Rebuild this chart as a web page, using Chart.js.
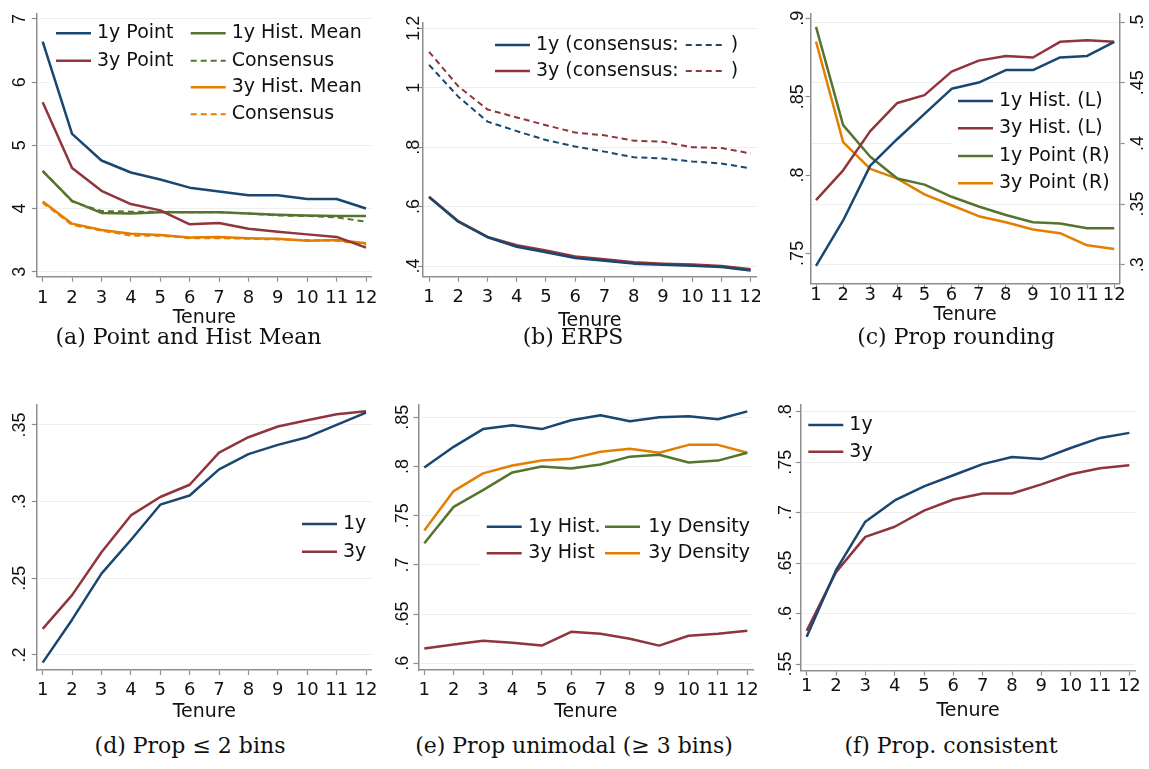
<!DOCTYPE html>
<html>
<head>
<meta charset="utf-8">
<title>Tenure panels</title>
<script src="https://cdn.jsdelivr.net/npm/chart.js@4.4.1/dist/chart.umd.min.js"></script>
<style>
  body { margin: 0; background: #fff; width: 1149px; height: 769px; position: relative; overflow: hidden; }
  canvas { position: absolute; }
  .cap { position: absolute; font-family: "DejaVu Serif", serif; font-size: 22px; line-height: 26px;
         color: #111; text-align: center; white-space: nowrap; }
</style>
</head>
<body>
<canvas id="pa" style="left:0;top:0"></canvas>
<canvas id="pb" style="left:380px;top:0"></canvas>
<canvas id="pc" style="left:760px;top:0"></canvas>
<canvas id="pd" style="left:0;top:380px"></canvas>
<canvas id="pe" style="left:380px;top:380px"></canvas>
<canvas id="pf" style="left:760px;top:380px"></canvas>

<div class="cap" style="left:0;width:377px;top:324px">(a) Point and Hist Mean</div>
<div class="cap" style="left:380px;width:386px;top:324px">(b) ERPS</div>
<div class="cap" style="left:760px;width:392px;top:324px">(c) Prop rounding</div>
<div class="cap" style="left:0;width:380px;top:733px">(d) Prop ≤ 2 bins</div>
<div class="cap" style="left:380px;width:388px;top:733px">(e) Prop unimodal (≥ 3 bins)</div>
<div class="cap" style="left:760px;width:382px;top:733px">(f) Prop. consistent</div>

<script>
// tenure (years) on the x axis of every panel
const tenure = [1, 2, 3, 4, 5, 6, 7, 8, 9, 10, 11, 12];

// (a) point forecasts and histogram means
const point1y     = [6.64, 5.18, 4.76, 4.57, 4.46, 4.33, 4.27, 4.21, 4.21, 4.15, 4.15, 4.00];
const point3y     = [5.68, 4.64, 4.28, 4.07, 3.97, 3.75, 3.77, 3.68, 3.63, 3.59, 3.55, 3.38];
const histMean1y  = [4.59, 4.12, 3.93, 3.92, 3.94, 3.94, 3.94, 3.92, 3.90, 3.89, 3.88, 3.88];
const consMean1y  = [4.60, 4.11, 3.96, 3.95, 3.95, 3.94, 3.94, 3.92, 3.89, 3.88, 3.86, 3.79];
const histMean3y  = [4.11, 3.76, 3.66, 3.60, 3.58, 3.54, 3.55, 3.53, 3.52, 3.49, 3.50, 3.45];
const consMean3y  = [4.09, 3.74, 3.65, 3.57, 3.57, 3.53, 3.53, 3.52, 3.51, 3.50, 3.49, 3.43];

// (b) ERPS
const erps1y      = [0.632, 0.549, 0.497, 0.465, 0.446, 0.427, 0.418, 0.408, 0.404, 0.401, 0.397, 0.385];
const erps3y      = [0.633, 0.551, 0.498, 0.470, 0.452, 0.432, 0.423, 0.413, 0.408, 0.405, 0.400, 0.389];
const erpsCons1y  = [1.077, 0.970, 0.886, 0.854, 0.824, 0.802, 0.785, 0.766, 0.762, 0.752, 0.745, 0.729];
const erpsCons3y  = [1.121, 1.005, 0.927, 0.900, 0.874, 0.849, 0.840, 0.822, 0.818, 0.800, 0.797, 0.779];

// (c) share of rounded answers
const roundHist1y  = [0.742, 0.771, 0.806, 0.823, 0.839, 0.855, 0.859, 0.867, 0.867, 0.875, 0.876, 0.885];
const roundHist3y  = [0.784, 0.803, 0.828, 0.846, 0.851, 0.866, 0.873, 0.876, 0.875, 0.885, 0.886, 0.885];
const roundPoint1y = [0.496, 0.415, 0.389, 0.371, 0.366, 0.356, 0.348, 0.341, 0.335, 0.334, 0.330, 0.330];
const roundPoint3y = [0.484, 0.401, 0.379, 0.371, 0.358, 0.349, 0.340, 0.335, 0.329, 0.326, 0.316, 0.313];

// (d) share using at most two bins
const twoBins1y = [0.195, 0.223, 0.253, 0.275, 0.298, 0.304, 0.321, 0.331, 0.337, 0.342, 0.350, 0.358];
const twoBins3y = [0.217, 0.239, 0.267, 0.291, 0.303, 0.311, 0.332, 0.342, 0.349, 0.353, 0.357, 0.359];

// (e) share unimodal among three-plus bins
const unimodalHist1y = [0.799, 0.820, 0.838, 0.842, 0.838, 0.847, 0.852, 0.846, 0.850, 0.851, 0.848, 0.856];
const unimodalHist3y = [0.615, 0.619, 0.623, 0.621, 0.618, 0.632, 0.630, 0.625, 0.618, 0.628, 0.630, 0.633];
const unimodalDens1y = [0.722, 0.759, 0.776, 0.794, 0.800, 0.798, 0.802, 0.810, 0.812, 0.804, 0.806, 0.814];
const unimodalDens3y = [0.735, 0.775, 0.793, 0.801, 0.806, 0.808, 0.815, 0.818, 0.814, 0.822, 0.822, 0.814];

// (f) share consistent
const consistent1y = [0.577, 0.643, 0.691, 0.712, 0.726, 0.737, 0.748, 0.755, 0.753, 0.764, 0.774, 0.779];
const consistent3y = [0.583, 0.641, 0.676, 0.686, 0.702, 0.713, 0.719, 0.719, 0.728, 0.738, 0.744, 0.747];

// y tick values and their labels
const ticksA = [3, 4, 5, 6, 7];                 const labelsA = ["3", "4", "5", "6", "7"];
const ticksB = [0.4, 0.6, 0.8, 1, 1.2];         const labelsB = [".4", ".6", ".8", "1", "1.2"];
const ticksCL = [0.75, 0.8, 0.85, 0.9];         const labelsCL = [".75", ".8", ".85", ".9"];
const ticksCR = [0.3, 0.35, 0.4, 0.45, 0.5];    const labelsCR = [".3", ".35", ".4", ".45", ".5"];
const ticksD = [0.2, 0.25, 0.3, 0.35];          const labelsD = [".2", ".25", ".3", ".35"];
const ticksE = [0.6, 0.65, 0.7, 0.75, 0.8, 0.85]; const labelsE = [".6", ".65", ".7", ".75", ".8", ".85"];
const ticksF = [0.55, 0.6, 0.65, 0.7, 0.75, 0.8]; const labelsF = [".55", ".6", ".65", ".7", ".75", ".8"];

// Stata s2color palette
const NAVY = "#1a476f", MAROON = "#90353b", GREEN = "#55752f", ORANGE = "#e37e00";
const AXIS = "#8e8e8e", GRID = "#efefef", INK = "#111";
const SANS = '"DejaVu Sans", sans-serif';

function series(label, values, color, dashed, axis) {
  return {
    label: label,
    data: tenure.map((t, i) => ({ x: t, y: values[i] })),
    borderColor: color,
    backgroundColor: color,
    borderWidth: dashed ? 2 : 2.5,
    borderDash: dashed ? [6, 4] : [],
    borderJoinStyle: "round",
    pointRadius: 0,
    tension: 0,
    fill: false,
    yAxisID: axis || "y"
  };
}

function yAxis(p, pos) {
  return {
    type: "linear",
    position: pos,
    min: p.min,
    max: p.max,
    afterBuildTicks: s => { s.ticks = p.ticks.map(v => ({ value: v })); },
    afterFit: s => { s.width = p.width; s.paddingTop = 0; s.paddingBottom = 0; },
    ticks: { display: false },
    grid: { color: GRID, lineWidth: 1, drawOnChartArea: p.grid, drawTicks: true,
            tickLength: 5, tickColor: AXIS, tickWidth: 1.2 },
    border: { display: true, color: AXIS, width: 1.5 }
  };
}

// vertical tick labels read bottom-to-top, as in Stata
function rotatedLabels(specs) {
  return {
    id: "rotatedLabels",
    afterDraw(chart) {
      const ctx = chart.ctx;
      ctx.save();
      ctx.font = '18px "Liberation Sans", Arial, sans-serif';
      ctx.fillStyle = INK;
      ctx.textAlign = "center";
      ctx.textBaseline = "alphabetic";
      specs.forEach(sp => {
        const scale = chart.scales[sp.axis];
        sp.ticks.forEach((v, i) => {
          const py = scale.getPixelForValue(v);
          ctx.save();
          ctx.translate(sp.x, py);
          ctx.rotate(-Math.PI / 2);
          ctx.fillText(sp.labels[i], 0, 0);
          ctx.restore();
        });
      });
      ctx.restore();
    }
  };
}

// legend drawn inside the plot region with the datasets' own line styles
function insideLegend(items, box) {
  return {
    id: "insideLegend",
    beforeDatasetsDraw(chart) {
      if (!box) return;
      const ctx = chart.ctx;
      ctx.save();
      ctx.fillStyle = "#fff";
      ctx.fillRect(box[0], box[1], box[2], box[3]);
      ctx.restore();
    },
    afterDatasetsDraw(chart) {
      const ctx = chart.ctx;
      ctx.save();
      ctx.font = "19px " + SANS;
      ctx.textBaseline = "middle";
      ctx.fillStyle = INK;
      let cursor = 0;
      items.forEach(it => {
        const x = it.x === "auto" ? cursor + 7 : it.x;
        if (it.ds !== undefined) {
          const ds = chart.data.datasets[it.ds];
          const len = it.len || 35;
          ctx.strokeStyle = ds.borderColor;
          ctx.lineWidth = ds.borderWidth;
          ctx.setLineDash(ds.borderDash || []);
          ctx.beginPath();
          ctx.moveTo(x, it.y);
          ctx.lineTo(x + len, it.y);
          ctx.stroke();
          ctx.setLineDash([]);
          cursor = x + len;
        } else {
          ctx.fillText(it.text, x, it.y);
          cursor = x + ctx.measureText(it.text).width;
        }
      });
      ctx.restore();
    }
  };
}

function panel(id, p) {
  const canvas = document.getElementById(id);
  canvas.width = p.w;
  canvas.height = p.h;
  const scales = {
    x: {
      type: "linear",
      min: 0.8,
      max: 12.2,
      afterBuildTicks: s => { s.ticks = tenure.map(v => ({ value: v })); },
      afterFit: s => { s.height = p.h - p.bottom; s.paddingLeft = 0; s.paddingRight = 0; },
      ticks: { font: { family: SANS, size: 18 }, color: INK, padding: p.tickPad,
               autoSkip: false, maxRotation: 0, callback: v => String(v) },
      grid: { drawOnChartArea: false, drawTicks: true, tickLength: 5, tickColor: AXIS, tickWidth: 1.2 },
      border: { display: true, color: AXIS, width: 1.5 },
      title: { display: true, text: "Tenure", color: INK, font: { family: SANS, size: 19 },
               padding: { top: 0, bottom: p.titlePad } }
    },
    y: yAxis(Object.assign({ width: p.left, grid: true }, p.y), "left")
  };
  if (p.y1) scales.y1 = yAxis(Object.assign({ grid: true }, p.y1), "right");
  return new Chart(canvas, {
    type: "line",
    data: { datasets: p.datasets },
    options: {
      responsive: false,
      animation: false,
      events: [],
      layout: { padding: { left: 0, top: p.top, right: p.padRight, bottom: 0 } },
      scales: scales,
      plugins: { legend: { display: false }, tooltip: { enabled: false } }
    },
    plugins: [rotatedLabels(p.rot), insideLegend(p.legend, p.box)]
  });
}

// (a) Point and Hist Mean
panel("pa", {
  w: 380, h: 332, left: 36.8, top: 13.3, bottom: 276.7, padRight: 8.1, tickPad: 5.5, titlePad: 3,
  y: { min: 2.92, max: 7.09, ticks: ticksA },
  rot: [{ axis: "y", ticks: ticksA, labels: labelsA, x: 25 }],
  datasets: [
    series("1y Point", point1y, NAVY),
    series("3y Point", point3y, MAROON),
    series("1y Hist. Mean", histMean1y, GREEN),
    series("Consensus", consMean1y, GREEN, true),
    series("3y Hist. Mean", histMean3y, ORANGE),
    series("Consensus", consMean3y, ORANGE, true)
  ],
  box: [50, 19, 320, 109],
  legend: [
    { ds: 0, x: 56, y: 33.3 }, { text: "1y Point", x: 97, y: 33.3 },
    { ds: 2, x: 190.7, y: 33.3 }, { text: "1y Hist. Mean", x: 231.7, y: 33.3 },
    { ds: 1, x: 56, y: 60.7 }, { text: "3y Point", x: 97, y: 60.7 },
    { ds: 3, x: 190.7, y: 60.7 }, { text: "Consensus", x: 231.7, y: 60.7 },
    { ds: 4, x: 190.7, y: 87.3 }, { text: "3y Hist. Mean", x: 231.7, y: 87.3 },
    { ds: 5, x: 190.7, y: 114.3 }, { text: "Consensus", x: 231.7, y: 114.3 }
  ]
});

// (b) ERPS
panel("pb", {
  w: 380, h: 332, left: 43.2, top: 22.7, bottom: 276.7, padRight: 3.5, tickPad: 5, titlePad: 0,
  y: { min: 0.364, max: 1.219, ticks: ticksB },
  rot: [{ axis: "y", ticks: ticksB, labels: labelsB, x: 39 }],
  datasets: [
    series("1y", erps1y, NAVY),
    series("3y", erps3y, MAROON),
    series("1y consensus", erpsCons1y, NAVY, true),
    series("3y consensus", erpsCons3y, MAROON, true)
  ],
  legend: [
    { ds: 0, x: 115, y: 45 }, { text: "1y (consensus:", x: 156, y: 45 },
    { ds: 2, x: "auto", y: 45, len: 38 }, { text: ")", x: "auto", y: 45 },
    { ds: 1, x: 115, y: 71 }, { text: "3y (consensus:", x: 156, y: 71 },
    { ds: 3, x: "auto", y: 71, len: 38 }, { text: ")", x: "auto", y: 71 }
  ]
});

// (c) Prop rounding, two y axes
panel("pc", {
  w: 389, h: 332, left: 50.6, top: 13.3, bottom: 283.3, padRight: 0, tickPad: -4, titlePad: 5.6,
  y: { min: 0.7309, max: 0.9032, ticks: ticksCL, grid: false },
  y1: { min: 0.2847, max: 0.5072, ticks: ticksCR, width: 29.3 },
  rot: [{ axis: "y", ticks: ticksCL, labels: labelsCL, x: 43 },
        { axis: "y1", ticks: ticksCR, labels: labelsCR, x: 383 }],
  datasets: [
    series("1y Hist. (L)", roundHist1y, NAVY),
    series("3y Hist. (L)", roundHist3y, MAROON),
    series("1y Point (R)", roundPoint1y, GREEN, false, "y1"),
    series("3y Point (R)", roundPoint3y, ORANGE, false, "y1")
  ],
  box: [193, 88, 166, 109],
  legend: [
    { ds: 0, x: 198, y: 101 }, { text: "1y Hist. (L)", x: 239, y: 101 },
    { ds: 1, x: 198, y: 128.3 }, { text: "3y Hist. (L)", x: 239, y: 128.3 },
    { ds: 2, x: 198, y: 156 }, { text: "1y Point (R)", x: 239, y: 156 },
    { ds: 3, x: 198, y: 183.3 }, { text: "3y Point (R)", x: 239, y: 183.3 }
  ]
});

// (d) Prop <= 2 bins
panel("pd", {
  w: 380, h: 345, left: 36.8, top: 25, bottom: 290, padRight: 8.1, tickPad: 4.2, titlePad: 1.9,
  y: { min: 0.1902, max: 0.363, ticks: ticksD },
  rot: [{ axis: "y", ticks: ticksD, labels: labelsD, x: 25 }],
  datasets: [
    series("1y", twoBins1y, NAVY),
    series("3y", twoBins3y, MAROON)
  ],
  box: [296, 131, 76, 54],
  legend: [
    { ds: 0, x: 302, y: 144 }, { text: "1y", x: 343, y: 144 },
    { ds: 1, x: 302, y: 171.7 }, { text: "3y", x: 343, y: 171.7 }
  ]
});

// (e) Prop unimodal
panel("pe", {
  w: 380, h: 345, left: 38.4, top: 25, bottom: 290, padRight: 6.8, tickPad: 4.2, titlePad: 1.1,
  y: { min: 0.5932, max: 0.8625, ticks: ticksE },
  rot: [{ axis: "y", ticks: ticksE, labels: labelsE, x: 28 }],
  datasets: [
    series("1y Hist.", unimodalHist1y, NAVY),
    series("3y Hist", unimodalHist3y, MAROON),
    series("1y Density", unimodalDens1y, GREEN),
    series("3y Density", unimodalDens3y, ORANGE)
  ],
  box: [100, 133, 273, 54],
  legend: [
    { ds: 0, x: 106.7, y: 146.7 }, { text: "1y Hist.", x: 148.3, y: 146.7 },
    { ds: 2, x: 225, y: 146.7 }, { text: "1y Density", x: 268.3, y: 146.7 },
    { ds: 1, x: 106.7, y: 173.3 }, { text: "3y Hist", x: 148.3, y: 173.3 },
    { ds: 3, x: 225, y: 173.3 }, { text: "3y Density", x: 268.3, y: 173.3 }
  ]
});

// (f) Prop. consistent
panel("pf", {
  w: 389, h: 345, left: 40.8, top: 25, bottom: 290.7, padRight: 13.8, tickPad: 0, titlePad: 2.6,
  y: { min: 0.5434, max: 0.8066, ticks: ticksF },
  rot: [{ axis: "y", ticks: ticksF, labels: labelsF, x: 31 }],
  datasets: [
    series("1y", consistent1y, NAVY),
    series("3y", consistent3y, MAROON)
  ],
  box: [44, 32, 81, 49],
  legend: [
    { ds: 0, x: 48.3, y: 45 }, { text: "1y", x: 89.3, y: 45 },
    { ds: 1, x: 48.3, y: 71.7 }, { text: "3y", x: 89.3, y: 71.7 }
  ]
});
</script>
</body>
</html>
